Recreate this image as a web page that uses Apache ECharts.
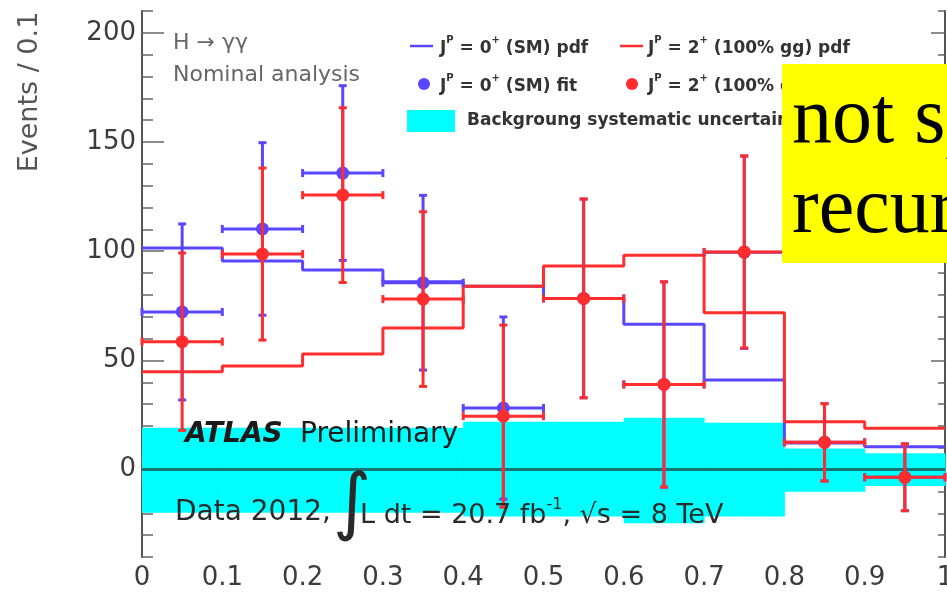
<!DOCTYPE html>
<html><head><meta charset="utf-8">
<script src="https://cdn.jsdelivr.net/npm/echarts@6/dist/echarts.min.js"></script>
<style>html,body{margin:0;padding:0;background:#fff}#c{width:947px;height:592px}</style>
</head><body><div id="c"></div>
<script>
// ---- data ----
const binEdges   = [0, 0.1, 0.2, 0.3, 0.4, 0.5, 0.6, 0.7, 0.8, 0.9, 1.0];
const binCenters = [0.05, 0.15, 0.25, 0.35, 0.45, 0.55, 0.65, 0.75, 0.85, 0.95];
const smPdf      = [101.5, 95.5, 91.4, 86.0, 84.0, 78.4, 66.6, 41.0, 12.2, 10.5];
const ggPdf      = [44.8, 47.4, 52.9, 64.8, 84.0, 93.2, 98.2, 71.8, 21.9, 18.9];
const smFit      = [72.2, 110.2, 135.8, 85.6, 28.2, 78.4, 39.0, 99.5, 12.5, -3.5];
const smFitErr   = [40.3, 39.5, 40.0, 40.0, 41.7, 45.5, 47.0, 44.0, 17.7, 15.3];
const ggFit      = [58.6, 98.7, 125.7, 78.1, 24.5, 78.4, 39.0, 99.7, 12.5, -3.5];
const ggFitErr   = [40.6, 39.4, 40.0, 40.0, 41.7, 45.5, 47.0, 44.0, 17.7, 15.3];
const bkgUp      = [19.2, 19.2, 19.2, 19.2, 21.9, 21.9, 23.8, 21.5, 9.7, 7.5];
const bkgDown    = [-19.7, -19.7, -19.7, -19.7, -21.5, -21.5, -24.6, -21.5, -10.1, -7.5];
const yTickLabels = [0, 50, 100, 150, 200];

// ---- styles ----
const BLUE = '#5a46ff', RED = '#ff2d2d', CYAN = '#00ffff';
const AX = '#555', TK = '#666', LBL = '#3c3c3c';
const FONT = 'DejaVu Sans';

function stepData(vals) {
  const d = binEdges.slice(0, vals.length).map((e, i) => [e, vals[i]]);
  d.push([binEdges[vals.length], vals[vals.length - 1]]);
  return d;
}
function fitData(vals, errs) {
  return binCenters.map((c, i) => [c, vals[i], errs[i], binEdges[i], binEdges[i + 1]]);
}
function errRender(color) {
  return function (params, api) {
    const x = api.value(0), y = api.value(1), e = api.value(2);
    const c = api.coord([x, y]);
    const t = api.coord([x, y + e]), b = api.coord([x, y - e]);
    const l = api.coord([api.value(3), y]), r = api.coord([api.value(4), y]);
    const ls = { stroke: color, lineWidth: 3 };
    const cap = 4;
    return { type: 'group', children: [
      { type: 'line', shape: { x1: c[0], y1: t[1], x2: c[0], y2: b[1] }, style: ls },
      { type: 'line', shape: { x1: c[0] - cap, y1: t[1], x2: c[0] + cap, y2: t[1] }, style: ls },
      { type: 'line', shape: { x1: c[0] - cap, y1: b[1], x2: c[0] + cap, y2: b[1] }, style: ls },
      { type: 'line', shape: { x1: l[0], y1: c[1], x2: r[0], y2: c[1] }, style: ls },
      { type: 'line', shape: { x1: l[0], y1: c[1] - cap, x2: l[0], y2: c[1] + cap }, style: ls },
      { type: 'line', shape: { x1: r[0], y1: c[1] - cap, x2: r[0], y2: c[1] + cap }, style: ls },
      { type: 'circle', shape: { cx: c[0], cy: c[1], r: 6.5 }, style: { fill: color } }
    ]};
  };
}

const xBase = { type: 'value', min: 0, max: 1, interval: 0.1, gridIndex: 0, splitLine: { show: false } };
const yBase = { type: 'value', min: -40, max: 210, gridIndex: 0, splitLine: { show: false } };

const legRich = {
  m: { fontSize: 17, fontWeight: 'bold', fontFamily: FONT, fill: '#333', color: '#333', lineHeight: 22, verticalAlign: 'bottom' },
  s: { fontSize: 10, fontWeight: 'bold', fontFamily: FONT, fill: '#333', color: '#333', lineHeight: 10, verticalAlign: 'top' }
};
function legText(x, y, txt) {
  return { type: 'text', x: x, y: y, z: 50,
    style: { text: txt, rich: legRich, align: 'left', verticalAlign: 'middle', textAlign: 'left', textVerticalAlign: 'middle' } };
}
function plainText(x, y, txt, size, color, weight, style, family) {
  return { type: 'text', x: x, y: y, z: 50,
    style: { text: txt, fontSize: size, fontFamily: family || FONT, fontWeight: weight || 'normal', fontStyle: style || 'normal',
      fill: color, align: 'left', verticalAlign: 'middle', textAlign: 'left', textVerticalAlign: 'middle' } };
}

const chart = echarts.init(document.getElementById('c'), null, { renderer: 'canvas' });
chart.setOption({
  backgroundColor: '#fff',
  animation: false,
  grid: { left: 142, right: 2, top: 11, bottom: 35, containLabel: false, outerBoundsMode: 'none' },
  xAxis: [
    Object.assign({}, xBase, { position: 'bottom',
      axisLine: { show: true, lineStyle: { color: AX, width: 2 } },
      axisTick: { show: true, inside: true, length: 16, lineStyle: { color: TK, width: 1.5 } },
      minorTick: { show: true, splitNumber: 5, length: 8, lineStyle: { color: TK, width: 1.5 } },
      axisLabel: { show: true, margin: 8, fontSize: 26, fontFamily: FONT, color: LBL } }),
    Object.assign({}, xBase, { position: 'top',
      axisLine: { show: true, lineStyle: { color: AX, width: 2 } },
      axisTick: { show: true, inside: true, length: 14, lineStyle: { color: TK, width: 1.5 } },
      minorTick: { show: true, splitNumber: 5, length: 7, lineStyle: { color: TK, width: 1.5 } },
      axisLabel: { show: false } })
  ],
  yAxis: [
    Object.assign({}, yBase, { position: 'left',
      axisLine: { show: true, lineStyle: { color: AX, width: 2 } },
      axisTick: { show: true, inside: true, length: 22, customValues: yTickLabels, lineStyle: { color: TK, width: 1.5 } },
      axisLabel: { show: true, margin: 6, customValues: yTickLabels, fontSize: 26, fontFamily: FONT, color: LBL } }),
    Object.assign({}, yBase, { position: 'left', interval: 10,
      axisLine: { show: false },
      axisTick: { show: true, inside: true, length: 11, lineStyle: { color: TK, width: 1.5 } },
      axisLabel: { show: false } }),
    Object.assign({}, yBase, { position: 'right',
      axisLine: { show: true, lineStyle: { color: AX, width: 2 } },
      axisTick: { show: true, inside: true, length: 14, customValues: yTickLabels, lineStyle: { color: TK, width: 1.5 } },
      axisLabel: { show: false } }),
    Object.assign({}, yBase, { position: 'right', interval: 10,
      axisLine: { show: false },
      axisTick: { show: true, inside: true, length: 7, lineStyle: { color: TK, width: 1.5 } },
      axisLabel: { show: false } })
  ],
  series: [
    { name: 'Backgroung systematic uncertainty', type: 'custom', xAxisIndex: 0, yAxisIndex: 0, z: 1,
      data: bkgUp.map((u, i) => [binEdges[i], binEdges[i + 1], bkgDown[i], u]),
      renderItem: function (params, api) {
        const p1 = api.coord([api.value(0), api.value(3)]);
        const p2 = api.coord([api.value(1), api.value(2)]);
        return { type: 'rect', shape: { x: p1[0], y: p1[1], width: p2[0] - p1[0] + 0.5, height: p2[1] - p1[1] }, style: { fill: CYAN } };
      },
      markLine: { silent: true, z: 2, symbol: ['none', 'none'], label: { show: false },
        lineStyle: { color: '#127676', width: 3, type: 'solid' }, data: [{ yAxis: 0 }] }
    },
    { name: 'J=0+ (SM) pdf', type: 'line', step: 'end', xAxisIndex: 0, yAxisIndex: 0, z: 3,
      data: stepData(smPdf), showSymbol: false, lineStyle: { color: BLUE, width: 3 } },
    { name: 'J=2+ (100% gg) pdf', type: 'line', step: 'end', xAxisIndex: 0, yAxisIndex: 0, z: 4,
      data: stepData(ggPdf), showSymbol: false, lineStyle: { color: RED, width: 3 } },
    { name: 'J=0+ (SM) fit', type: 'custom', xAxisIndex: 0, yAxisIndex: 0, z: 5,
      data: fitData(smFit, smFitErr), renderItem: errRender(BLUE) },
    { name: 'J=2+ (100% gg) fit', type: 'custom', xAxisIndex: 0, yAxisIndex: 0, z: 6,
      data: fitData(ggFit, ggFitErr), renderItem: errRender(RED) }
  ],
  graphic: { elements: [
    { type: 'text', x: 30, y: 92, rotation: Math.PI / 2, z: 50,
      style: { text: 'Events / 0.1', fontSize: 27, fontFamily: FONT, fill: '#555', align: 'center', verticalAlign: 'middle', textAlign: 'center', textVerticalAlign: 'middle' } },
    plainText(173, 43, 'H → γγ', 22, '#666'),
    plainText(173, 75, 'Nominal analysis', 22, '#666'),
    // legend
    { type: 'line', z: 50, shape: { x1: 410, y1: 46, x2: 433, y2: 46 }, style: { stroke: BLUE, lineWidth: 2.5 } },
    legText(440, 46, '{m|J}{s|P}{m| = 0}{s|+}{m| (SM) pdf}'),
    { type: 'line', z: 50, shape: { x1: 620, y1: 46, x2: 643, y2: 46 }, style: { stroke: RED, lineWidth: 2.5 } },
    legText(648, 46, '{m|J}{s|P}{m| = 2}{s|+}{m| (100% gg) pdf}'),
    { type: 'circle', z: 50, shape: { cx: 424, cy: 84, r: 6 }, style: { fill: BLUE } },
    legText(440, 84, '{m|J}{s|P}{m| = 0}{s|+}{m| (SM) fit}'),
    { type: 'circle', z: 50, shape: { cx: 632, cy: 84, r: 6 }, style: { fill: RED } },
    legText(648, 84, '{m|J}{s|P}{m| = 2}{s|+}{m| (100% gg) fit}'),
    { type: 'rect', z: 50, shape: { x: 407, y: 110, width: 48, height: 22 }, style: { fill: CYAN } },
    plainText(467, 121, 'Backgroung systematic uncertainty', 17, '#333', 'bold'),
    // ATLAS labels
    plainText(185, 435, 'ATLAS', 28, '#1a1a1a', 'bold', 'italic'),
    plainText(300, 435, 'Preliminary', 28, '#1a1a1a'),
    plainText(175, 513, 'Data 2012,', 28, '#2a2a2a'),
    plainText(333, 507, '∫', 74, '#2a2a2a'),
    { type: 'text', x: 360, y: 513, z: 50,
      style: { text: '{m|L dt = 20.7 fb}{s|-1}{m|, √s = 8 TeV}', align: 'left', verticalAlign: 'middle', textAlign: 'left', textVerticalAlign: 'middle',
        rich: {
          m: { fontSize: 27, fontFamily: FONT, fill: '#2a2a2a', color: '#2a2a2a', lineHeight: 32, verticalAlign: 'bottom' },
          s: { fontSize: 16, fontFamily: FONT, fill: '#2a2a2a', color: '#2a2a2a', lineHeight: 16, verticalAlign: 'top' }
        } } },
    // yellow annotation box
    { type: 'rect', z: 100, shape: { x: 782, y: 64, width: 170, height: 199 }, style: { fill: '#ffff00' } },
    { type: 'text', x: 792, y: 121, z: 101,
      style: { text: 'not sp', fontSize: 80, fontFamily: 'Liberation Serif', fill: '#000', align: 'left', verticalAlign: 'middle', textAlign: 'left', textVerticalAlign: 'middle' } },
    { type: 'text', x: 792, y: 211, z: 101,
      style: { text: 'recur', fontSize: 80, fontFamily: 'Liberation Serif', fill: '#000', align: 'left', verticalAlign: 'middle', textAlign: 'left', textVerticalAlign: 'middle' } }
  ]}
});
</script>
</body></html>
